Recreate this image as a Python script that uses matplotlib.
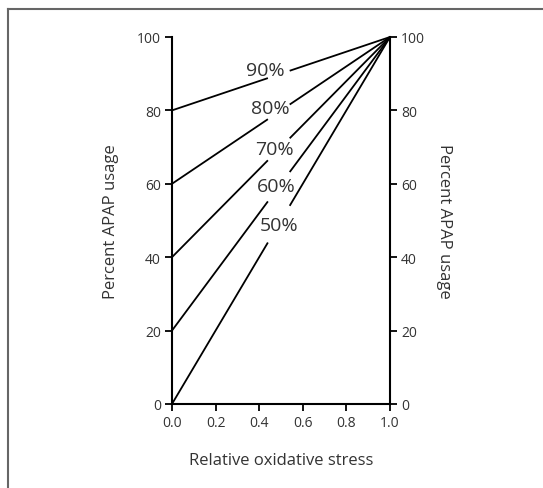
import matplotlib
matplotlib.use("Agg")
import matplotlib.pyplot as plt
from matplotlib.lines import Line2D
import numpy as np

plt.rcParams['font.family'] = ['Open Sans', 'DejaVu Sans']

# Data
labels = ["90%", "80%", "70%", "60%", "50%"]
start_values = [80, 60, 40, 20, 0]
end_values = [100, 100, 100, 100, 100]
label_x = [0.43, 0.45, 0.47, 0.48, 0.49]
label_y = [91.0, 80.7, 69.5, 59.5, 48.8]
x_ticks = [0.0, 0.2, 0.4, 0.6, 0.8, 1.0]
y_ticks = [0, 20, 40, 60, 80, 100]

GAP_START, GAP_END = 0.44, 0.54
TEXT = '#333333'

fig = plt.figure(figsize=(5.43, 4.89), dpi=100)
ax = fig.add_axes([0.3167, 0.1718, 0.7182 - 0.3167, 0.9223 - 0.1718])

for s, e, lab, lx, ly in zip(start_values, end_values, labels, label_x, label_y):
    def yv(x):
        return s + (e - s) * x
    ax.plot([0, GAP_START], [yv(0), yv(GAP_START)], color='black', lw=1.3,
            solid_capstyle='butt', clip_on=False)
    ax.plot([GAP_END, 1], [yv(GAP_END), yv(1)], color='black', lw=1.3,
            solid_capstyle='butt', clip_on=False)
    ax.text(lx, ly, lab, ha='center', va='center', fontsize=14, color=TEXT)

ax.set_xlim(0, 1)
ax.set_ylim(0, 100)
ax.set_xticks(x_ticks)
ax.set_xticklabels([f"{v:.1f}" for v in x_ticks])
ax.set_yticks(y_ticks)
ax.set_yticklabels([str(v) for v in y_ticks])
ax.tick_params(axis='both', direction='out', length=5, width=1.3,
               labelsize=10, labelcolor=TEXT, color='black', pad=3)
for sp in ['left', 'bottom']:
    ax.spines[sp].set_linewidth(1.5)
ax.spines['top'].set_visible(False)
ax.spines['right'].set_visible(False)

ax2 = ax.twinx()
ax2.set_ylim(0, 100)
ax2.set_yticks(y_ticks)
ax2.set_yticklabels([str(v) for v in y_ticks])
ax2.tick_params(axis='y', direction='out', length=5, width=1.3,
                labelsize=10, labelcolor=TEXT, color='black', pad=3)
ax2.spines['right'].set_linewidth(1.5)
ax2.spines['top'].set_visible(False)
ax2.spines['left'].set_visible(False)
ax2.spines['bottom'].set_visible(False)

ax.set_xlabel("Relative oxidative stress", fontsize=12, color=TEXT, labelpad=16)
ax.set_ylabel("Percent APAP usage", fontsize=12, color=TEXT, labelpad=13)
ax2.set_ylabel("Percent APAP usage", fontsize=12, color=TEXT, rotation=-90,
               labelpad=8, va='bottom')

# figure border (top and left)
fig.add_artist(Line2D([8/543, 542/543], [1 - 10/489, 1 - 10/489],
                      transform=fig.transFigure, color='#666666', lw=1.5))
fig.add_artist(Line2D([8/543, 8/543], [0, 1 - 10/489],
                      transform=fig.transFigure, color='#666666', lw=1.5))

fig.savefig("out.png", dpi=100)
